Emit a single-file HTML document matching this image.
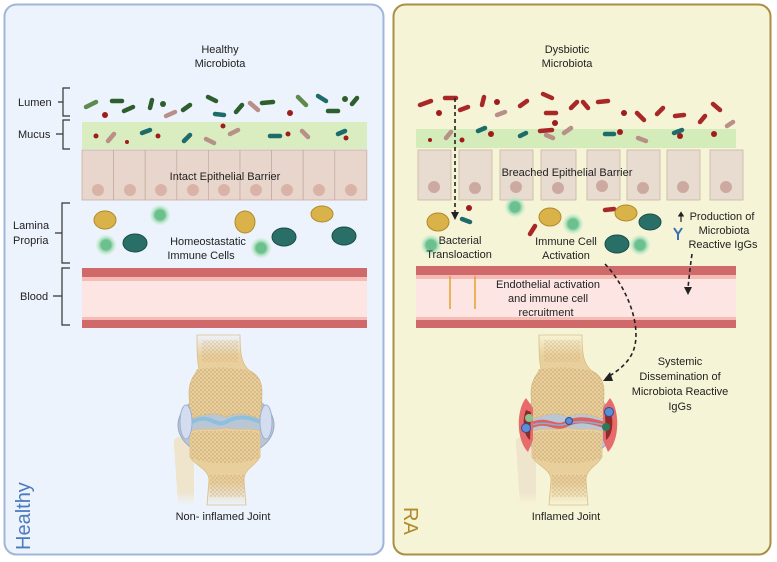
<!DOCTYPE html>
<html><head><meta charset="utf-8"><style>
html,body{margin:0;padding:0;background:#fff;}
svg{display:block;font-family:"Liberation Sans",Arial,sans-serif;}
</style></head><body>
<svg width="777" height="562" viewBox="0 0 777 562" xmlns="http://www.w3.org/2000/svg">
<defs>
<linearGradient id="fadeB" x1="0" y1="0" x2="0" y2="1"><stop offset="0" stop-color="#e8cf9c"/><stop offset="0.7" stop-color="#e8cf9c"/><stop offset="1" stop-color="#e8cf9c" stop-opacity="0"/></linearGradient>
<linearGradient id="fadeT" x1="0" y1="0" x2="0" y2="1"><stop offset="0" stop-color="#e8cf9c" stop-opacity="0"/><stop offset="0.25" stop-color="#e8cf9c"/></linearGradient>
<linearGradient id="fadeF" x1="0" y1="0" x2="0" y2="1"><stop offset="0" stop-color="#efe4cc"/><stop offset="0.8" stop-color="#efe4cc"/><stop offset="1" stop-color="#efe4cc" stop-opacity="0"/></linearGradient>
<radialGradient id="glow"><stop offset="0.45" stop-color="#6cc08e"/><stop offset="0.6" stop-color="#a6dcb8"/><stop offset="1" stop-color="#c8f0d4" stop-opacity="0"/></radialGradient>
<pattern id="dots" width="4" height="4" patternUnits="userSpaceOnUse"><circle cx="1" cy="1" r="0.8" fill="#c4a06c"/><circle cx="3" cy="3" r="0.7" fill="#c4a06c"/></pattern>
<g id="joint">
  <path d="M-50 100 C-52 92 -44 90 -38 95 L-30 104 L-30 160 L-46 160 Z" fill="url(#fadeF)"/>
  <ellipse cx="2" cy="80" rx="48" ry="33" fill="#b9c6d6" stroke="#9aabc0"/>
  <path d="M-27 -10 L16 -10 C16 10 18 20 26 26 C34 30 38 36 38 48 L37 74 C25 70 15 66 2 72 C-10 66 -22 70 -34 74 L-35 48 C-35 36 -30 30 -25 24 C-27 15 -27 5 -27 -10Z" fill="url(#fadeT)" stroke="#d9be8a" stroke-width="0.8"/>
  <path d="M-27 24 C-30 30 -35 36 -35 48 L-34 74 C-22 70 -10 66 2 72 C15 66 25 70 37 74 L38 48 C38 36 34 30 26 26 C10 22 -10 22 -27 24Z" fill="url(#dots)"/>
  <rect x="-22" y="-5" width="36" height="22" fill="url(#dots)" opacity="0.7"/>
  <path d="M-34 86 C-20 82 -10 86 2 83 C14 86 25 82 36 86 L36 112 C30 122 20 124 20 135 L22 160 L-17 160 L-15 135 C-15 124 -30 120 -34 112Z" fill="url(#fadeB)" stroke="#d9be8a" stroke-width="0.8"/>
  <path d="M-33 88 C-20 84 -10 88 2 85 C14 88 25 84 35 88 L35 112 C28 120 -26 120 -33 112Z" fill="url(#dots)"/>
  <rect x="-14" y="130" width="34" height="22" fill="url(#dots)" opacity="0.8"/>
</g>
</defs>
<rect x="4.5" y="4.5" width="379" height="550" rx="12" fill="#edf3fc" stroke="#9fb6d8" stroke-width="2"/>
<rect x="393.5" y="4.5" width="377" height="550" rx="12" fill="#f6f4d6" stroke="#a88f44" stroke-width="2"/>

<g font-size="11" fill="#222" text-anchor="middle">
<text x="220" y="53">Healthy</text><text x="220" y="67">Microbiota</text>
<text x="567" y="53">Dysbiotic</text><text x="567" y="67">Microbiota</text>
</g>

<g font-size="11" fill="#222" stroke="#333" stroke-width="1.2">
<text x="18" y="106" stroke="none">Lumen</text>
<path d="M58 102 H63 M70 88 H63 V116 H70" fill="none"/>
<text x="18" y="138" stroke="none">Mucus</text>
<path d="M56 134 H63 M70 120 H63 V149 H70" fill="none"/>
<text x="13" y="229" stroke="none">Lamina</text><text x="13" y="244" stroke="none">Propria</text>
<path d="M55 233 H62 M70 203 H62 V263 H70" fill="none"/>
<text x="20" y="300" stroke="none">Blood</text>
<path d="M53 296 H62 M70 268 H62 V325 H70" fill="none"/>
</g>

<rect x="82" y="122" width="285" height="27" fill="#d9edc0"/>
<g fill="#e8d6cc" stroke="#c8aea2" stroke-width="0.8">
<rect x="82" y="150" width="31.6" height="50"/><rect x="113.6" y="150" width="31.6" height="50"/><rect x="145.2" y="150" width="31.6" height="50"/><rect x="176.8" y="150" width="31.6" height="50"/><rect x="208.4" y="150" width="31.6" height="50"/><rect x="240" y="150" width="31.6" height="50"/><rect x="271.6" y="150" width="31.6" height="50"/><rect x="303.2" y="150" width="31.6" height="50"/><rect x="334.8" y="150" width="32" height="50"/>
</g>
<g fill="#d9b3a8">
<circle cx="98" cy="190" r="6"/><circle cx="130" cy="190" r="6"/><circle cx="161" cy="190" r="6"/><circle cx="193" cy="190" r="6"/><circle cx="224" cy="190" r="6"/><circle cx="256" cy="190" r="6"/><circle cx="287" cy="190" r="6"/><circle cx="319" cy="190" r="6"/><circle cx="351" cy="190" r="6"/>
</g>
<text x="225" y="180" font-size="11" fill="#222" text-anchor="middle">Intact Epithelial Barrier</text>

<g stroke-linecap="round" stroke-width="4.5">
<line x1="86" y1="107" x2="96" y2="102" stroke="#5e8a4e"/><line x1="112" y1="101" x2="122" y2="101" stroke="#2f5e2e"/>
<line x1="124" y1="111" x2="133" y2="107" stroke="#2f5e2e"/><line x1="150" y1="108" x2="152" y2="100" stroke="#2f5e2e"/>
<line x1="166" y1="116" x2="175" y2="112" stroke="#b89088"/><line x1="183" y1="110" x2="190" y2="105" stroke="#2f5e2e"/>
<line x1="208" y1="97" x2="216" y2="101" stroke="#2f5e2e"/><line x1="236" y1="112" x2="242" y2="105" stroke="#2f5e2e"/>
<line x1="250" y1="103" x2="258" y2="110" stroke="#b89088"/><line x1="262" y1="103" x2="273" y2="102" stroke="#2f5e2e"/>
<line x1="298" y1="97" x2="306" y2="105" stroke="#5e8a4e"/><line x1="318" y1="96" x2="326" y2="101" stroke="#1e6b6b"/>
<line x1="328" y1="111" x2="338" y2="111" stroke="#2f5e2e"/><line x1="352" y1="104" x2="357" y2="98" stroke="#2f5e2e"/>
<line x1="215" y1="114" x2="224" y2="115" stroke="#1e6b6b"/>
<line x1="108" y1="141" x2="114" y2="134" stroke="#b89088"/><line x1="142" y1="133" x2="150" y2="130" stroke="#1e6b6b"/>
<line x1="184" y1="141" x2="190" y2="135" stroke="#1e6b6b"/><line x1="206" y1="139" x2="214" y2="143" stroke="#b89088"/>
<line x1="230" y1="134" x2="238" y2="130" stroke="#b89088"/><line x1="270" y1="136" x2="280" y2="136" stroke="#1e6b6b"/>
<line x1="302" y1="131" x2="308" y2="137" stroke="#b89088"/><line x1="338" y1="134" x2="345" y2="131" stroke="#1e6b6b"/>
</g>
<g fill="#9e1c1c"><circle cx="105" cy="115" r="3"/><circle cx="290" cy="113" r="3"/><circle cx="96" cy="136" r="2.5"/><circle cx="127" cy="142" r="2"/><circle cx="158" cy="136" r="2.5"/><circle cx="223" cy="126" r="2.5"/><circle cx="288" cy="134" r="2.5"/><circle cx="346" cy="138" r="2.5"/></g>
<circle cx="163" cy="104" r="3" fill="#2f5e2e"/><circle cx="345" cy="99" r="3" fill="#2f5e2e"/>

<g>
<ellipse cx="105" cy="220" rx="11" ry="9" fill="#d9b24a" stroke="#b08a2c"/>
<ellipse cx="245" cy="222" rx="10" ry="11" fill="#d9b24a" stroke="#b08a2c"/>
<ellipse cx="322" cy="214" rx="11" ry="8" fill="#d9b24a" stroke="#b08a2c"/>
<ellipse cx="135" cy="243" rx="12" ry="9" fill="#2a6e68" stroke="#1a4d48"/>
<ellipse cx="284" cy="237" rx="12" ry="9" fill="#2a6e68" stroke="#1a4d48"/>
<ellipse cx="344" cy="236" rx="12" ry="9" fill="#2a6e68" stroke="#1a4d48"/>
<circle cx="160" cy="215" r="11" fill="url(#glow)"/><circle cx="106" cy="245" r="11" fill="url(#glow)"/><circle cx="261" cy="248" r="11" fill="url(#glow)"/>
</g>
<g font-size="11" fill="#222" text-anchor="middle"><text x="208" y="245">Homeostastatic</text><text x="201" y="259">Immune Cells</text></g>

<rect x="82" y="268" width="285" height="9" fill="#d06a6a"/><rect x="82" y="277" width="285" height="4" fill="#f4bcb4"/>
<rect x="82" y="281" width="285" height="36" fill="#fde5e4"/>
<rect x="82" y="317" width="285" height="3" fill="#f4bcb4"/><rect x="82" y="320" width="285" height="8" fill="#d06a6a"/>

<rect x="416" y="129" width="320" height="19" fill="#d4ebba"/>
<g fill="#e8dcd0" stroke="#c8b3a6" stroke-width="0.8">
<rect x="418" y="150" width="33" height="50"/><rect x="459" y="150" width="33" height="50"/><rect x="500" y="150" width="33" height="50"/><rect x="541" y="150" width="35" height="50"/><rect x="587" y="150" width="33" height="50"/><rect x="627" y="150" width="33" height="50"/><rect x="667" y="150" width="33" height="50"/><rect x="710" y="150" width="33" height="50"/>
</g>
<g fill="#ccaaa2"><circle cx="434" cy="187" r="6"/><circle cx="475" cy="188" r="6"/><circle cx="516" cy="187" r="6"/><circle cx="558" cy="188" r="6"/><circle cx="602" cy="186" r="6"/><circle cx="643" cy="188" r="6"/><circle cx="683" cy="187" r="6"/><circle cx="726" cy="187" r="6"/></g>
<text x="567" y="176" font-size="11" fill="#222" text-anchor="middle">Breached Epithelial Barrier</text>

<g stroke-linecap="round" stroke-width="4.5" stroke="#a82828">
<line x1="420" y1="105" x2="431" y2="101"/><line x1="445" y1="98" x2="456" y2="98"/><line x1="460" y1="110" x2="468" y2="107"/>
<line x1="482" y1="105" x2="484" y2="97"/><line x1="520" y1="106" x2="527" y2="101"/><line x1="543" y1="94" x2="552" y2="98"/>
<line x1="546" y1="113" x2="556" y2="113"/><line x1="571" y1="108" x2="577" y2="102"/><line x1="583" y1="102" x2="588" y2="108"/>
<line x1="598" y1="102" x2="608" y2="101"/><line x1="637" y1="113" x2="644" y2="120"/><line x1="657" y1="114" x2="663" y2="108"/>
<line x1="675" y1="116" x2="684" y2="115"/><line x1="700" y1="122" x2="705" y2="116"/><line x1="713" y1="104" x2="720" y2="110"/>
<line x1="540" y1="131" x2="552" y2="130"/>
</g>
<g stroke-linecap="round" stroke-width="4.5">
<line x1="497" y1="115" x2="505" y2="112" stroke="#b89088"/><line x1="446" y1="138" x2="451" y2="132" stroke="#b89088"/>
<line x1="478" y1="131" x2="485" y2="128" stroke="#1e6b6b"/><line x1="520" y1="136" x2="526" y2="133" stroke="#1e6b6b"/>
<line x1="546" y1="135" x2="553" y2="138" stroke="#b89088"/><line x1="564" y1="133" x2="571" y2="128" stroke="#b89088"/>
<line x1="605" y1="134" x2="614" y2="134" stroke="#1e6b6b"/><line x1="638" y1="138" x2="646" y2="141" stroke="#b89088"/>
<line x1="674" y1="133" x2="682" y2="130" stroke="#1e6b6b"/><line x1="727" y1="126" x2="733" y2="122" stroke="#b89088"/>
<line x1="462" y1="219" x2="470" y2="222" stroke="#1e6b6b"/><line x1="530" y1="234" x2="535" y2="226" stroke="#a82828"/>
<line x1="605" y1="210" x2="614" y2="209" stroke="#a82828"/>
</g>
<g fill="#9e1c1c"><circle cx="439" cy="113" r="3"/><circle cx="497" cy="102" r="3"/><circle cx="624" cy="113" r="3"/><circle cx="555" cy="123" r="3"/><circle cx="462" cy="140" r="2.5"/><circle cx="491" cy="134" r="3"/><circle cx="620" cy="132" r="3"/><circle cx="680" cy="136" r="3"/><circle cx="714" cy="134" r="3"/><circle cx="469" cy="208" r="3"/><circle cx="430" cy="140" r="2"/></g>

<ellipse cx="438" cy="222" rx="11" ry="9" fill="#d9b24a" stroke="#b08a2c"/>
<ellipse cx="550" cy="217" rx="11" ry="9" fill="#d9b24a" stroke="#b08a2c"/>
<ellipse cx="626" cy="213" rx="11" ry="8" fill="#d9b24a" stroke="#b08a2c"/>
<ellipse cx="650" cy="222" rx="11" ry="8" fill="#2a6e68" stroke="#1a4d48"/>
<ellipse cx="617" cy="244" rx="12" ry="9" fill="#2a6e68" stroke="#1a4d48"/>
<circle cx="515" cy="207" r="11" fill="url(#glow)"/><circle cx="573" cy="224" r="11" fill="url(#glow)"/><circle cx="640" cy="245" r="11" fill="url(#glow)"/><circle cx="431" cy="245" r="11" fill="url(#glow)"/><circle cx="485" cy="300" r="11" fill="url(#glow)"/>
<path d="M674 228 L678 234 L682 228 M678 234 V240" stroke="#3a6fb0" stroke-width="2" fill="none"/>
<g font-size="11" fill="#222" text-anchor="middle">
<text x="460" y="244">Bacterial</text><text x="459" y="258">Transloaction</text>
<text x="566" y="245">Immune Cell</text><text x="566" y="259">Activation</text>
<text x="722" y="220">Production of</text><text x="724" y="234">Microbiota</text><text x="723" y="248">Reactive IgGs</text>
</g>
<path d="M681 222 V214 M678.5 216.5 L681 212.5 L683.5 216.5" stroke="#222" stroke-width="1.2" fill="#222"/>

<rect x="416" y="266" width="320" height="9" fill="#d06a6a"/><rect x="416" y="275" width="320" height="4" fill="#f4bcb4"/>
<rect x="416" y="279" width="320" height="38" fill="#fde5e4"/>
<rect x="416" y="317" width="320" height="3" fill="#f4bcb4"/><rect x="416" y="320" width="320" height="8" fill="#d06a6a"/>
<g stroke="#e2a030" stroke-width="1.5"><line x1="450" y1="276" x2="450" y2="309"/><line x1="475" y1="276" x2="475" y2="309"/></g>
<g font-size="11" fill="#222" text-anchor="middle"><text x="548" y="288">Endothelial activation</text><text x="548" y="302">and immune cell</text><text x="546" y="316">recruitment</text></g>

<g stroke="#222" stroke-width="1.6" stroke-dasharray="4 3" fill="none">
<line x1="455" y1="98" x2="455" y2="214"/>
<path d="M605 264 C625 285 640 320 635 345 C632 360 620 370 606 378"/>
<path d="M692 254 C690 268 689 278 688 288"/>
</g>
<g fill="#222"><path d="M451 212 L459 212 L455 220Z"/><path d="M684 287 L692 287 L688 295Z"/><path d="M610 372 L603 381 L613 381Z"/></g>
<g font-size="11" fill="#222" text-anchor="middle"><text x="680" y="365">Systemic</text><text x="680" y="380">Dissemination of</text><text x="680" y="395">Microbiota Reactive</text><text x="680" y="410">IgGs</text></g>

<use href="#joint" x="224" y="345"/>
<use href="#joint" x="566" y="345"/>
<path d="M192 422 C210 412 215 428 226 422 C236 416 248 416 260 422" stroke="#8cc0dc" stroke-width="4" fill="none"/>
<ellipse cx="186" cy="422" rx="6" ry="17" fill="#d4dcf0" stroke="#9ab0d0"/><ellipse cx="266" cy="422" rx="6" ry="17" fill="#d4dcf0" stroke="#9ab0d0"/>
<path d="M532 425 C548 418 555 430 566 424 C578 418 590 420 604 425" stroke="#e06060" stroke-width="6" fill="none"/>
<path d="M532 425 C548 420 555 428 566 424 C578 420 590 422 604 425" stroke="#7fb3d6" stroke-width="1.5" fill="none"/>
<path d="M526 398 C516 410 516 440 528 452 L533 440 L533 408Z" fill="#e76b6b"/>
<path d="M610 398 C620 410 620 440 608 452 L603 440 L603 408Z" fill="#e76b6b"/>
<path d="M526 410 C522 420 523 435 530 440 L531 412Z" fill="#8e2a2a"/>
<path d="M610 410 C614 420 613 435 606 440 L605 412Z" fill="#8e2a2a"/>
<circle cx="529" cy="418" r="4" fill="#8ac48e"/><circle cx="526" cy="428" r="4.5" fill="#5c8ed4" stroke="#2a4e9a"/>
<circle cx="609" cy="412" r="4.5" fill="#5c8ed4" stroke="#2a4e9a"/><circle cx="606" cy="427" r="4" fill="#2a7a5a"/>
<circle cx="569" cy="421" r="3.5" fill="#5c8ed4" stroke="#2a4e9a"/>

<g font-size="11" fill="#222" text-anchor="middle"><text x="223" y="520">Non- inflamed Joint</text><text x="566" y="520">Inflamed Joint</text></g>

<text transform="translate(30,550) rotate(-90)" font-size="20" fill="#4a7bc0">Healthy</text>
<text transform="translate(404,507) rotate(90)" font-size="20" fill="#b08a2c">RA</text>
</svg>
</body></html>
